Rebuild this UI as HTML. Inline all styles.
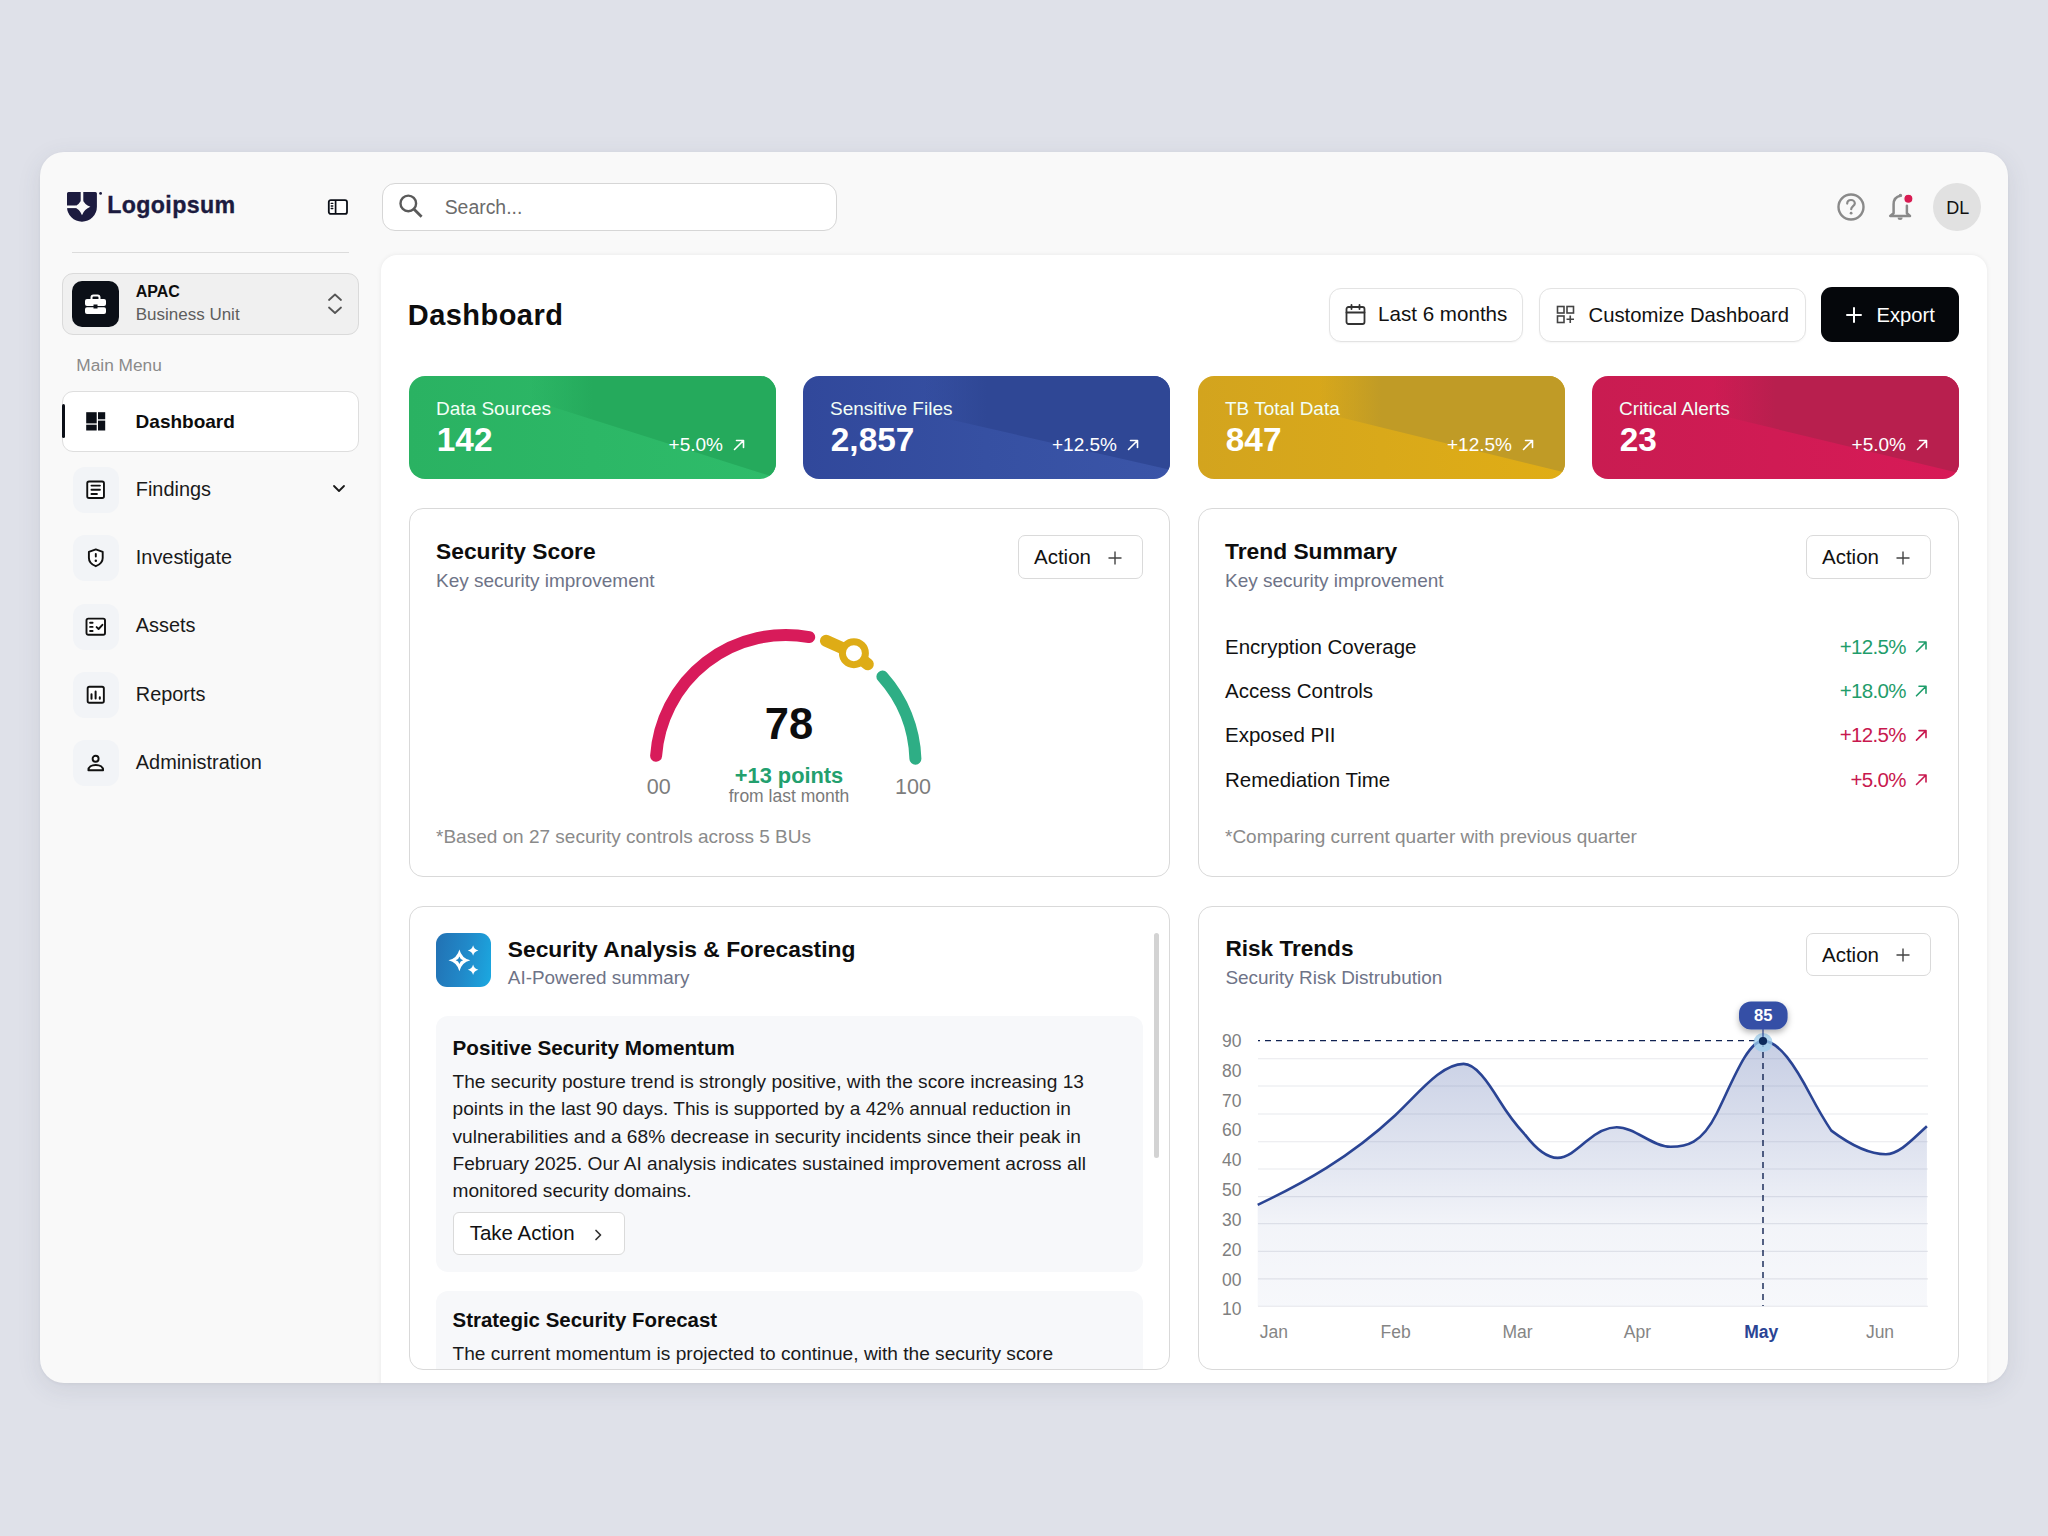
<!DOCTYPE html>
<html><head><meta charset="utf-8"><title>Dashboard</title>
<style>
*{box-sizing:border-box;margin:0;padding:0}
html,body{width:2048px;height:1536px;overflow:hidden}
body{background:#dfe1e9;font-family:"Liberation Sans",sans-serif;color:#111;position:relative}
.a{position:absolute;line-height:1;white-space:nowrap}
.frame{position:absolute;left:40px;top:152px;width:1968px;height:1231px;background:#f9f9f9;border-radius:24px;box-shadow:0 6px 24px rgba(60,64,90,.10),0 1px 3px rgba(60,64,90,.06);overflow:hidden}
.panel{position:absolute;left:341px;top:102.5px;width:1606px;height:1140px;background:#fff;border-radius:16px 16px 0 0;box-shadow:0 0 5px rgba(0,0,0,.07)}
.card{position:absolute;background:#fff;border:1.5px solid #d9d9d9;border-radius:14px}
.btn{position:absolute;background:#fff;border:1.5px solid #dadada;border-radius:7px}
.stat{position:absolute;top:376px;width:367px;height:103px;border-radius:16px;overflow:hidden}
.stat .bg2{position:absolute;inset:0}
.stat .lbl{position:absolute;left:27px;top:23.4px;font-size:19px;color:#f2fff6;line-height:1}
.stat .val{position:absolute;left:27.8px;top:46.7px;font-size:33.4px;font-weight:700;color:#fff;line-height:1}
.stat .chg{position:absolute;right:53px;top:58.5px;font-size:19px;color:#fff;line-height:1}
.stat svg{position:absolute;left:323px;top:62px}
.stat svg path{stroke-width:1.6}
.nav-ico{position:absolute;left:73px;width:46px;height:46px;border-radius:12px;background:#f2f4f7}
.nav-ico svg{position:absolute;left:12px;top:12px;overflow:visible}
.navt{position:absolute;left:135.8px;font-size:19.9px;color:#1a1a1a;line-height:1}
.ttl{font-size:22.8px;font-weight:700;color:#0d0d0d}
.sub{font-size:19px;color:#6e7387}
.foot{font-size:19px;color:#8a8a8a}
</style></head><body>
<div class="frame"><div class="panel"></div></div>
<!-- sidebar -->
<svg class="a" style="left:66px;top:191px" width="38" height="32" viewBox="0 0 38 32">
  <path d="M1 2.4 A1.5 1.5 0 0 1 2.5 0.9 H29.4 A1.5 1.5 0 0 1 30.9 2.4 V15.8 A14.95 14.95 0 0 1 1 15.8 Z" fill="#1c1b3f"/>
  <rect x="14.7" y="0" width="2.6" height="10" fill="#f9f9f9"/>
  <rect x="0" y="14.5" width="10" height="2.6" fill="#f9f9f9"/>
  <path d="M16 7.4 Q18.3 13.5 24.4 15.8 Q18.3 18.1 16 24.2 Q13.7 18.1 7.6 15.8 Q13.7 13.5 16 7.4 Z" fill="#f9f9f9"/>
  <circle cx="34.6" cy="2.4" r="1.4" fill="#1c1b3f"/>
</svg>
<div class="a" style="left:107.3px;top:193.8px;font-size:23.2px;font-weight:700;color:#1c1b3f;letter-spacing:0.35px;-webkit-text-stroke:0.35px #1c1b3f">Logoipsum</div>
<svg class="a" style="left:327px;top:198px" width="22" height="18" viewBox="0 0 22 18">
  <rect x="1.8" y="2.1" width="18.2" height="13.8" rx="2" fill="#fff" stroke="#0b0f17" stroke-width="1.8"/>
  <line x1="8.6" y1="2.1" x2="8.6" y2="15.9" stroke="#0b0f17" stroke-width="1.7"/>
  <path d="M4.2 5.4H5.8M4.2 8H5.8M4.2 10.5H5.8" stroke="#0b0f17" stroke-width="1.3" stroke-linecap="round"/>
</svg>
<div class="a" style="left:72px;top:251.5px;width:277px;height:1.5px;background:#dcdcdc"></div>
<div class="a" style="left:62px;top:273px;width:297px;height:62px;background:#f0f0f0;border:1.5px solid #dadada;border-radius:11px"></div>
<div class="a" style="left:72px;top:281px;width:47px;height:46px;background:#0b0f17;border-radius:10px"></div>
<svg class="a" style="left:84px;top:294px" width="23" height="21" viewBox="0 0 23 21">
  <path d="M7.5 5 V3.5 A2 2 0 0 1 9.5 1.5 H13.5 A2 2 0 0 1 15.5 3.5 V5" fill="none" stroke="#fff" stroke-width="2"/>
  <rect x="1" y="5" width="21" height="7" rx="2" fill="#fff"/>
  <rect x="1" y="13.2" width="21" height="6.8" rx="2" fill="#fff"/>
  <rect x="9.5" y="10.5" width="4" height="4" fill="#0b0f17"/>
</svg>
<div class="a" style="left:135.7px;top:284px;font-size:16px;font-weight:700;color:#0d0d0d">APAC</div>
<div class="a" style="left:135.7px;top:306.3px;font-size:17px;color:#5e5e5e">Business Unit</div>
<svg class="a" style="left:326px;top:292px" width="18" height="24" viewBox="0 0 18 24">
  <path d="M3 8 L9 2.5 L15 8 M3 15.5 L9 21 L15 15.5" fill="none" stroke="#555" stroke-width="1.8" stroke-linecap="round" stroke-linejoin="round"/>
</svg>
<div class="a" style="left:76.3px;top:356.6px;font-size:17.3px;color:#8a8a8a">Main Menu</div>
<div class="a" style="left:62px;top:390.5px;width:297px;height:61.5px;background:#fff;border:1.5px solid #dedede;border-radius:11px"></div>
<div class="a" style="left:61.5px;top:404px;width:3px;height:33.5px;background:#0b0f17;border-radius:2px"></div>
<svg class="a" style="left:86px;top:412px" width="20" height="19" viewBox="0 0 20 19">
  <rect x="0.2" y="0.2" width="10.5" height="11.2" fill="#0b0f17"/>
  <rect x="12" y="0.2" width="7.2" height="7.1" fill="#0b0f17"/>
  <rect x="0.2" y="12.7" width="10.5" height="5.8" fill="#0b0f17"/>
  <rect x="12" y="8.6" width="7.2" height="9.9" fill="#0b0f17"/>
</svg>
<div class="a" style="left:135.6px;top:412px;font-size:19px;font-weight:700;color:#0d0d0d">Dashboard</div>

<div class="nav-ico" style="top:467px"><svg width="22" height="22" viewBox="0 0 22 22"><rect x="2.25" y="2.45" width="16.7" height="16.5" rx="1.8" fill="#fff" stroke="#111" stroke-width="1.9"/><path d="M6.45 6.6H14.95M6.45 10.8H14.95M6.45 15H11.95" fill="none" stroke="#111" stroke-width="1.9" stroke-linecap="round" stroke-linejoin="round"/></svg></div>
<div class="navt" style="top:480.0px">Findings</div>
<svg class="a" style="left:332px;top:483px" width="14" height="11" viewBox="0 0 14 11"><path d="M2 3 L7 8 L12 3" fill="none" stroke="#1a1a1a" stroke-width="1.8" stroke-linecap="round" stroke-linejoin="round"/></svg>

<div class="nav-ico" style="top:535.3px"><svg width="22" height="22" viewBox="0 0 22 22"><path d="M10.8 2.4 L3.9 4.9 V11 C3.9 15 6.8 17.6 10.8 19.2 C14.8 17.6 17.7 15 17.7 11 V4.9 Z" fill="#fff" stroke="#111" stroke-width="1.9" stroke-linecap="round" stroke-linejoin="round"/><path d="M10.8 6.9 V9.5" fill="none" stroke="#111" stroke-width="1.9" stroke-linecap="round" stroke-linejoin="round"/><circle cx="10.8" cy="13.7" r="1.25" fill="#111"/></svg></div>
<div class="navt" style="top:548.4px">Investigate</div>

<div class="nav-ico" style="top:603.6px"><svg width="22" height="22" viewBox="0 0 22 22"><rect x="1.5" y="2.6" width="18.5" height="16.2" rx="1.8" fill="#fff" stroke="#111" stroke-width="1.9"/><path d="M5.1 6.7H7.6M5.1 10.9H7.6M5.1 15H7.6" fill="none" stroke="#111" stroke-width="1.9" stroke-linecap="round" stroke-linejoin="round"/><path d="M11.6 11.1 L13.6 13 L17.4 8.8" fill="none" stroke="#111" stroke-width="1.9" stroke-linecap="round" stroke-linejoin="round"/></svg></div>
<div class="navt" style="top:616.3px">Assets</div>

<div class="nav-ico" style="top:671.9px"><svg width="22" height="22" viewBox="0 0 22 22"><rect x="2.65" y="2.75" width="16.2" height="16" rx="1.8" fill="#fff" stroke="#111" stroke-width="1.9"/><path d="M6.5 10.3V14.8M10.6 7.4V14.6M14.8 13.2V14.8" fill="none" stroke="#111" stroke-linecap="round" stroke-linejoin="round" stroke-width="2"/></svg></div>
<div class="navt" style="top:684.5px">Reports</div>

<div class="nav-ico" style="top:740.2px"><svg width="22" height="22" viewBox="0 0 22 22"><circle cx="10.6" cy="6.7" r="3" fill="#fff" stroke="#111" stroke-width="1.9"/><path d="M3.4 18.2 C3.4 15 6.5 13 10.75 13 C15 13 18.1 15 18.1 18.2 Z" fill="#fff" stroke="#111" stroke-width="1.9" stroke-linecap="round" stroke-linejoin="round"/></svg></div>
<div class="navt" style="top:752.8px">Administration</div>

<!-- top bar -->
<div class="a" style="left:382px;top:183px;width:455px;height:48px;background:#fff;border:1.5px solid #d6d6d6;border-radius:13px"></div>
<svg class="a" style="left:397px;top:193px" width="28" height="28" viewBox="0 0 28 28"><circle cx="11.3" cy="10.4" r="7.8" fill="none" stroke="#5a5a5a" stroke-width="2.4"/><path d="M16.8 16 L24.6 23.8" stroke="#5a5a5a" stroke-width="2.8"/></svg>
<div class="a" style="left:444.7px;top:197.6px;font-size:19.4px;color:#6b6b6b">Search...</div>

<svg class="a" style="left:1836px;top:192px" width="30" height="30" viewBox="0 0 30 30"><circle cx="15" cy="15" r="12.5" fill="none" stroke="#8a8a8a" stroke-width="2.4"/><path d="M11.2 11.6 C11.2 9.3 13 8 15 8 C17.2 8 18.8 9.5 18.8 11.4 C18.8 14 15.2 14.3 15.2 17.2" fill="none" stroke="#8a8a8a" stroke-width="2.2" stroke-linecap="round"/><circle cx="15.1" cy="21.2" r="1.4" fill="#8a8a8a"/></svg>
<svg class="a" style="left:1886px;top:192px" width="30" height="32" viewBox="0 0 30 32"><path d="M14.6 3.8 Q7.6 5 7.6 12.5 V21.2 L4.2 23.9 H24 L20.9 21.2 V13.8" fill="none" stroke="#8a8a8a" stroke-width="2.5" stroke-linejoin="round" stroke-linecap="round"/><circle cx="14.4" cy="3.4" r="1.7" fill="#8a8a8a"/><path d="M11.6 25.6 A2.5 2.5 0 0 0 16.6 25.6 Z" fill="#8a8a8a"/><circle cx="22.4" cy="6.8" r="4.6" fill="#d81b52" stroke="#f9f9f9" stroke-width="1.2"/></svg>
<div class="a" style="left:1933px;top:183px;width:48px;height:48px;border-radius:50%;background:#e1e1e1"></div>
<div class="a" style="left:1946.2px;top:199px;font-size:18px;color:#111">DL</div>

<!-- main panel -->
<div class="a" style="left:407.8px;top:300.8px;font-size:29px;font-weight:700;color:#0d0d0d;letter-spacing:0.45px">Dashboard</div>

<div class="a" style="left:1329px;top:288px;width:194px;height:54px;background:#fff;border:1.5px solid #e3e3e3;border-radius:12px;box-shadow:0 1px 2px rgba(0,0,0,.04)"></div>
<svg class="a" style="left:1344px;top:303px" width="24" height="24" viewBox="0 0 24 24"><rect x="2.5" y="4" width="18" height="17" rx="2" fill="none" stroke="#333" stroke-width="1.8"/><path d="M2.5 9.5H20.5M7.5 2V6M15.5 2V6" stroke="#333" stroke-width="1.8" stroke-linecap="round"/></svg>
<div class="a" style="left:1378px;top:304.2px;font-size:20.6px;color:#111">Last 6 months</div>

<div class="a" style="left:1539px;top:288px;width:267px;height:54px;background:#fff;border:1.5px solid #e3e3e3;border-radius:12px;box-shadow:0 1px 2px rgba(0,0,0,.04)"></div>
<svg class="a" style="left:1555px;top:304px" width="22" height="22" viewBox="0 0 22 22"><rect x="2.5" y="2.5" width="6.5" height="6.5" fill="none" stroke="#444" stroke-width="1.6"/><rect x="12" y="2.5" width="6.5" height="6.5" fill="none" stroke="#444" stroke-width="1.6"/><rect x="2.5" y="12" width="6.5" height="6.5" fill="none" stroke="#444" stroke-width="1.6"/><path d="M15.25 11.5V19M11.5 15.25H19" stroke="#444" stroke-width="1.6"/></svg>
<div class="a" style="left:1588.5px;top:304.5px;font-size:20.3px;color:#111">Customize Dashboard</div>

<div class="a" style="left:1821px;top:287px;width:138px;height:55px;background:#05070b;border-radius:11px"></div>
<svg class="a" style="left:1845px;top:306px" width="18" height="18" viewBox="0 0 18 18"><path d="M9 2V16M2 9H16" stroke="#fff" stroke-width="2" stroke-linecap="round"/></svg>
<div class="a" style="left:1876.5px;top:304.5px;font-size:20.2px;color:#fff">Export</div>

<!-- stat cards -->
<div class="stat" style="left:409px;background:linear-gradient(90deg,#2ab262 0%,#2cb766 50%,#2ebc6a 100%)">
  <div class="bg2" style="clip-path:polygon(12.5% 0,100% 0,100% 98.8%);background:linear-gradient(90deg,rgba(37,170,92,0) 33%,#25aa5c 50%,#25aa5c 100%)"></div>
  <div class="lbl">Data Sources</div><div class="val">142</div><div class="chg">+5.0%</div>
  <svg width="14" height="14" viewBox="0 0 14 14"><path d="M2.5 11.5 L11.5 2.5 M4.5 2.5 H11.5 V9.5" fill="none" stroke="#fff" stroke-width="1.8" stroke-linecap="round" stroke-linejoin="round"/></svg>
</div>
<div class="stat" style="left:803px;background:linear-gradient(90deg,#31489b 0%,#3650a2 50%,#3b55a8 100%)">
  <div class="bg2" style="clip-path:polygon(0 0,100% 0,100% 91%,0 9.8%);background:linear-gradient(90deg,rgba(47,71,149,0) 33%,#2f4795 50%,#2f4795 100%)"></div>
  <div class="lbl">Sensitive Files</div><div class="val">2,857</div><div class="chg">+12.5%</div>
  <svg width="14" height="14" viewBox="0 0 14 14"><path d="M2.5 11.5 L11.5 2.5 M4.5 2.5 H11.5 V9.5" fill="none" stroke="#fff" stroke-width="1.8" stroke-linecap="round" stroke-linejoin="round"/></svg>
</div>
<div class="stat" style="left:1198px;background:linear-gradient(90deg,#d3a41e 0%,#d9a91a 50%,#e0ad15 100%)">
  <div class="bg2" style="clip-path:polygon(0 0,100% 0,100% 93.7%,0 6%);background:linear-gradient(90deg,rgba(192,155,38,0) 33%,#c09b26 50%,#c09b26 100%)"></div>
  <div class="lbl">TB Total Data</div><div class="val">847</div><div class="chg">+12.5%</div>
  <svg width="14" height="14" viewBox="0 0 14 14"><path d="M2.5 11.5 L11.5 2.5 M4.5 2.5 H11.5 V9.5" fill="none" stroke="#fff" stroke-width="1.8" stroke-linecap="round" stroke-linejoin="round"/></svg>
</div>
<div class="stat" style="left:1592px;background:linear-gradient(90deg,#c91c51 0%,#d01b54 50%,#d81a57 100%)">
  <div class="bg2" style="clip-path:polygon(0 0,100% 0,100% 94.2%,0 8.3%);background:linear-gradient(90deg,rgba(184,31,78,0) 33%,#b81f4e 50%,#b81f4e 100%)"></div>
  <div class="lbl">Critical Alerts</div><div class="val">23</div><div class="chg">+5.0%</div>
  <svg width="14" height="14" viewBox="0 0 14 14"><path d="M2.5 11.5 L11.5 2.5 M4.5 2.5 H11.5 V9.5" fill="none" stroke="#fff" stroke-width="1.8" stroke-linecap="round" stroke-linejoin="round"/></svg>
</div>

<!-- Security score card -->
<div class="card" style="left:409px;top:508px;width:761px;height:369px"></div>
<div class="a ttl" style="left:436px;top:539.7px">Security Score</div>
<div class="a sub" style="left:436px;top:570.7px">Key security improvement</div>
<div class="btn" style="left:1018px;top:535px;width:125px;height:44px"></div>
<div class="a" style="left:1034px;top:547.4px;font-size:20.5px;color:#111">Action</div>
<svg class="a" style="left:1107px;top:550px" width="16" height="16" viewBox="0 0 16 16"><path d="M8 1.5V14.5M1.5 8H14.5" stroke="#444" stroke-width="1.4"/></svg>

<svg class="a" style="left:600px;top:600px" width="380" height="200" viewBox="600 600 380 200">
  <path d="M656.1 755.8 A130 130 0 0 1 809.2 637.1" fill="none" stroke="#d81b5a" stroke-width="12" stroke-linecap="round"/>
  <path d="M826 640.8 L853.9 653.2 L867.8 664.2" fill="none" stroke="#deac16" stroke-width="12" stroke-linecap="round" stroke-linejoin="round"/>
  <circle cx="853.9" cy="653.2" r="11.5" fill="#fff" stroke="#deac16" stroke-width="7"/>
  <path d="M882.4 676.6 A130 130 0 0 1 915.4 758.7" fill="none" stroke="#2eae85" stroke-width="12" stroke-linecap="round"/>
</svg>
<div class="a" style="left:742px;top:702.8px;width:94px;text-align:center;font-size:43.5px;font-weight:700;color:#0d0d0d">78</div>
<div class="a" style="left:700px;top:765.2px;width:178px;text-align:center;font-size:21.8px;font-weight:700;color:#23a06e">+13 points</div>
<div class="a" style="left:700px;top:787.8px;width:178px;text-align:center;font-size:17.5px;color:#7a7a7a">from last month</div>
<div class="a" style="left:646.8px;top:776.8px;font-size:21.5px;color:#7d7d7d">00</div>
<div class="a" style="left:895px;top:776.8px;font-size:21.5px;color:#7d7d7d">100</div>
<div class="a foot" style="left:436px;top:826.6px">*Based on 27 security controls across 5 BUs</div>

<!-- Trend summary -->
<div class="card" style="left:1198px;top:508px;width:761px;height:369px"></div>
<div class="a ttl" style="left:1225px;top:539.7px">Trend Summary</div>
<div class="a sub" style="left:1225px;top:570.7px">Key security improvement</div>
<div class="btn" style="left:1806px;top:535px;width:125px;height:44px"></div>
<div class="a" style="left:1822px;top:547.4px;font-size:20.5px;color:#111">Action</div>
<svg class="a" style="left:1895px;top:550px" width="16" height="16" viewBox="0 0 16 16"><path d="M8 1.5V14.5M1.5 8H14.5" stroke="#444" stroke-width="1.4"/></svg>

<div class="a" style="left:1225px;top:636.8px;font-size:20.5px;color:#111">Encryption Coverage</div>
<div class="a" style="left:1225px;top:681.1px;font-size:20.5px;color:#111">Access Controls</div>
<div class="a" style="left:1225px;top:725.2px;font-size:20.5px;color:#111">Exposed PII</div>
<div class="a" style="left:1225px;top:770.1px;font-size:20.5px;color:#111">Remediation Time</div>
<div class="a" style="right:142.3px;top:636.8px;font-size:20.5px;letter-spacing:-0.7px;color:#1f9d6b">+12.5%</div>
<div class="a" style="right:142.3px;top:681.1px;font-size:20.5px;letter-spacing:-0.7px;color:#1f9d6b">+18.0%</div>
<div class="a" style="right:142.3px;top:725.2px;font-size:20.5px;letter-spacing:-0.7px;color:#c8184e">+12.5%</div>
<div class="a" style="right:142.3px;top:770.1px;font-size:20.5px;letter-spacing:-0.7px;color:#c8184e">+5.0%</div>
<svg class="a" style="left:1914px;top:639px" width="15" height="150" viewBox="0 0 15 150">
  <g fill="none" stroke-width="1.6" stroke-linecap="round" stroke-linejoin="round">
  <path d="M2.5 12.5 L12 3 M5 3 H12 V10" stroke="#1f9d6b"/>
  <path transform="translate(0,44.3)" d="M2.5 12.5 L12 3 M5 3 H12 V10" stroke="#1f9d6b"/>
  <path transform="translate(0,88.6)" d="M2.5 12.5 L12 3 M5 3 H12 V10" stroke="#c8184e"/>
  <path transform="translate(0,133)" d="M2.5 12.5 L12 3 M5 3 H12 V10" stroke="#c8184e"/>
  </g>
</svg>
<div class="a foot" style="left:1225px;top:826.6px">*Comparing current quarter with previous quarter</div>

<!-- AI card -->
<div class="card" style="left:409px;top:906px;width:761px;height:464px;overflow:hidden">
</div>
<div class="a" style="left:436px;top:933px;width:55px;height:54px;border-radius:11px;background:linear-gradient(100deg,#2271b3 0%,#2188c8 50%,#1ba9e1 100%)"></div>
<svg class="a" style="left:436px;top:933px" width="55" height="54" viewBox="0 0 55 54"><path fill-rule="evenodd" d="M23.4 16.4 Q25.6 25.1 34.3 27.3 Q25.6 29.5 23.4 38.2 Q21.2 29.5 12.5 27.3 Q21.2 25.1 23.4 16.4 Z M23.4 23.6 Q24.1 26.6 27.1 27.3 Q24.1 28 23.4 31 Q22.7 28 19.7 27.3 Q22.7 26.6 23.4 23.6 Z" fill="#fff"/><path d="M37.1 12.2 Q38.1 16.5 42.4 17.5 Q38.1 18.5 37.1 22.8 Q36.1 18.5 31.8 17.5 Q36.1 16.5 37.1 12.2 Z M37.1 31.4 Q38.1 35.7 42.4 36.7 Q38.1 37.7 37.1 42 Q36.1 37.7 31.8 36.7 Q36.1 35.7 37.1 31.4 Z" fill="#fff"/></svg>
<div class="a ttl" style="left:507.8px;top:937.7px">Security Analysis &amp; Forecasting</div>
<div class="a sub" style="left:507.8px;top:968.5px;font-size:18.9px">AI-Powered summary</div>
<div class="a" style="left:1154px;top:933px;width:5px;height:225px;background:#d3d3d3;border-radius:3px"></div>
<div class="a" style="left:436px;top:1016px;width:707px;height:256px;background:#f7f8fa;border-radius:12px"></div>
<div class="a" style="left:452.5px;top:1038.2px;font-size:20.67px;font-weight:700;color:#0d0d0d">Positive Security Momentum</div>
<div class="a" style="left:452.5px;top:1068.2px;font-size:19.14px;line-height:27.3px;color:#1a1a1a;white-space:normal;width:660px">The security posture trend is strongly positive, with the score increasing 13<br>points in the last 90 days. This is supported by a 42% annual reduction in<br>vulnerabilities and a 68% decrease in security incidents since their peak in<br>February 2025. Our AI analysis indicates sustained improvement across all<br>monitored security domains.</div>
<div class="btn" style="left:453px;top:1212px;width:172px;height:43px;border-radius:6px"></div>
<div class="a" style="left:469.7px;top:1223.2px;font-size:20.5px;color:#111">Take Action</div>
<svg class="a" style="left:592px;top:1227.5px" width="12" height="14" viewBox="0 0 12 14"><path d="M4 2.5 L8.5 7 L4 11.5" fill="none" stroke="#333" stroke-width="1.7" stroke-linecap="round" stroke-linejoin="round"/></svg>
<div class="a" style="left:436px;top:1291px;width:707px;height:77.5px;background:#f7f8fa;border-radius:12px 12px 0 0"></div>
<div class="a" style="left:452.5px;top:1309.7px;font-size:20.44px;font-weight:700;color:#0d0d0d">Strategic Security Forecast</div>
<div class="a" style="left:452.5px;top:1343.8px;font-size:19.14px;color:#1a1a1a">The current momentum is projected to continue, with the security score</div>

<!-- Risk trends -->
<div class="card" style="left:1198px;top:906px;width:761px;height:464px"></div>
<div class="a ttl" style="left:1225.4px;top:937.9px;font-size:22.6px">Risk Trends</div>
<div class="a sub" style="left:1225.4px;top:968.5px;font-size:18.95px">Security Risk Distrubution</div>
<div class="btn" style="left:1806px;top:933px;width:125px;height:43px"></div>
<div class="a" style="left:1822px;top:945px;font-size:20.5px;color:#111">Action</div>
<svg class="a" style="left:1895px;top:947px" width="16" height="16" viewBox="0 0 16 16"><path d="M8 1.5V14.5M1.5 8H14.5" stroke="#444" stroke-width="1.4"/></svg>

<svg class="a" style="left:1198px;top:990px" width="761" height="370" viewBox="1198 990 761 370">
  <defs>
    <linearGradient id="fillg" x1="0" y1="0" x2="0" y2="1">
      <stop offset="0" stop-color="#2f4a9a" stop-opacity="0.27"/>
      <stop offset="0.45" stop-color="#2f4a9a" stop-opacity="0.14"/>
      <stop offset="0.7" stop-color="#2f4a9a" stop-opacity="0.06"/>
      <stop offset="1" stop-color="#2f4a9a" stop-opacity="0.04"/>
    </linearGradient>
    <filter id="sh" x="-30%" y="-50%" width="160%" height="220%"><feDropShadow dx="0" dy="3" stdDeviation="3" flood-color="#000" flood-opacity="0.3"/></filter>
  </defs>
  <g stroke="#e8e9ed" stroke-width="1.1">
    <line x1="1258" y1="1058.7" x2="1928" y2="1058.7"/>
    <line x1="1258" y1="1086" x2="1928" y2="1086"/>
    <line x1="1258" y1="1114" x2="1928" y2="1114"/>
    <line x1="1258" y1="1141.8" x2="1928" y2="1141.8"/>
    <line x1="1258" y1="1169" x2="1928" y2="1169"/>
    <line x1="1258" y1="1196.6" x2="1928" y2="1196.6"/>
    <line x1="1258" y1="1223.6" x2="1928" y2="1223.6"/>
    <line x1="1258" y1="1251.4" x2="1928" y2="1251.4"/>
    <line x1="1258" y1="1278.9" x2="1928" y2="1278.9"/>
    <line x1="1258" y1="1306.3" x2="1928" y2="1306.3"/>
  </g>
  <path id="area" d="M1257.7 1204.9 C1303.6 1182.9 1349.4 1157.9 1395.3 1115.2 C1418.1 1094.0 1440.8 1063.9 1463.6 1063.9 C1475.6 1063.9 1487.5 1081.3 1499.5 1100.7 C1508.1 1114.6 1516.6 1125.5 1525.2 1134.9 C1536.0 1148.9 1546.8 1157.9 1557.6 1157.9 C1567.3 1157.9 1577.0 1149.2 1586.7 1141.0 C1596.7 1132.5 1606.7 1127.2 1616.7 1127.2 C1634.7 1127.2 1652.6 1146.8 1670.6 1146.8 C1686.0 1146.8 1701.3 1144.2 1716.7 1113.5 C1732.1 1082.6 1747.6 1040.9 1763.0 1040.9 C1778.9 1040.9 1794.8 1065.3 1810.7 1095.5 C1817.6 1108.5 1824.4 1120.3 1831.3 1130.6 C1849.5 1144.2 1867.7 1154.2 1885.9 1154.2 C1899.6 1154.2 1913.2 1138.6 1926.9 1126.3 L1926.9 1306.3 L1257.7 1306.3 Z" fill="url(#fillg)"/>
  <path d="M1257.7 1204.9 C1303.6 1182.9 1349.4 1157.9 1395.3 1115.2 C1418.1 1094.0 1440.8 1063.9 1463.6 1063.9 C1475.6 1063.9 1487.5 1081.3 1499.5 1100.7 C1508.1 1114.6 1516.6 1125.5 1525.2 1134.9 C1536.0 1148.9 1546.8 1157.9 1557.6 1157.9 C1567.3 1157.9 1577.0 1149.2 1586.7 1141.0 C1596.7 1132.5 1606.7 1127.2 1616.7 1127.2 C1634.7 1127.2 1652.6 1146.8 1670.6 1146.8 C1686.0 1146.8 1701.3 1144.2 1716.7 1113.5 C1732.1 1082.6 1747.6 1040.9 1763.0 1040.9 C1778.9 1040.9 1794.8 1065.3 1810.7 1095.5 C1817.6 1108.5 1824.4 1120.3 1831.3 1130.6 C1849.5 1144.2 1867.7 1154.2 1885.9 1154.2 C1899.6 1154.2 1913.2 1138.6 1926.9 1126.3" fill="none" stroke="#2a4494" stroke-width="2.6" stroke-linejoin="round"/>
  <line x1="1258" y1="1040.7" x2="1763" y2="1040.7" stroke="#102252" stroke-width="1.3" stroke-dasharray="6 5" stroke-dashoffset="4"/>
  <line x1="1763" y1="1041" x2="1763" y2="1306" stroke="#102252" stroke-width="1.4" stroke-dasharray="6 5"/>
  <circle cx="1763" cy="1042.5" r="9.5" fill="#9dcdec" opacity="0.75"/><line x1="1763" y1="1028" x2="1763" y2="1038" stroke="#3450a6" stroke-width="1.2"/>
  <circle cx="1763" cy="1041" r="4.1" fill="#0d2a5c"/>
  <rect x="1739" y="1001.5" width="48.6" height="28" rx="12" fill="#3450a6" filter="url(#sh)"/>
  <text x="1763.2" y="1020.6" text-anchor="middle" font-family="Liberation Sans" font-size="16.6" font-weight="700" fill="#fff">85</text>
  <g font-family="Liberation Sans" font-size="17.5" fill="#808080" text-anchor="end">
    <text x="1241.5" y="1047">90</text>
    <text x="1241.5" y="1077">80</text>
    <text x="1241.5" y="1106.6">70</text>
    <text x="1241.5" y="1136.3">60</text>
    <text x="1241.5" y="1166.4">40</text>
    <text x="1241.5" y="1196">50</text>
    <text x="1241.5" y="1225.8">30</text>
    <text x="1241.5" y="1255.9">20</text>
    <text x="1241.5" y="1285.6">00</text>
    <text x="1241.5" y="1315.3">10</text>
  </g>
  <g font-family="Liberation Sans" font-size="17.5" fill="#858585" text-anchor="middle">
    <text x="1273.8" y="1337.6">Jan</text>
    <text x="1395.6" y="1337.6">Feb</text>
    <text x="1517.5" y="1337.6">Mar</text>
    <text x="1637.4" y="1337.6">Apr</text>
    <text x="1761.2" y="1337.6" fill="#2a4494" font-weight="700">May</text>
    <text x="1880" y="1337.6">Jun</text>
  </g>
</svg>
</body></html>
